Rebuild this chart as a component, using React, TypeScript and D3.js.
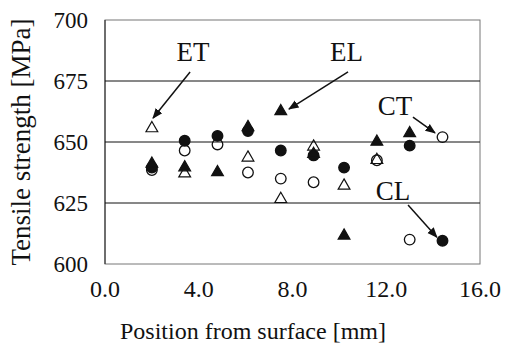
import * as d3 from 'd3';
import { useEffect, useRef } from 'react';

// positions along the thickness [mm]
const positions = [2.0, 3.4, 4.8, 6.1, 7.5, 8.9, 10.2, 11.6, 13.0, 14.4];
// tensile strength [MPa] per orientation (null = no point)
const etValues = [656, 637.5, null, 644, 627, 648.5, 632.5, 643, null, null];
const elValues = [641.5, 640, 638, 656.5, 663, 645.5, 612, 650.5, 654, null];
const ctValues = [638.5, 646.5, 649, 637.5, 635, 633.5, null, 642.5, 610, 652];
const clValues = [639.5, 650.5, 652.5, 654.5, 646.5, 644.5, 639.5, null, 648.5, 609.5];

const xTicks = [0, 4, 8, 12, 16];
const yTicks = [600, 625, 650, 675, 700];

// label text, label position and arrow start/target, in data units
const labels = [
  { text: 'ET', lx: 3.75, ly: 683, fx: 3.63, fy: 678.7, tx: 2.05, ty: 659.8 },
  { text: 'EL', lx: 10.3, ly: 683, fx: 10.37, fy: 678.7, tx: 7.85, ty: 663.5 },
  { text: 'CT', lx: 12.37, ly: 661, fx: 13.14, fy: 660.2, tx: 14.08, ty: 653.7 },
  { text: 'CL', lx: 12.29, ly: 626.2, fx: 12.93, fy: 624.2, tx: 14.16, ty: 611 },
];

const App = () => {
  const ref = useRef<SVGSVGElement>(null);

  useEffect(() => {
    const width = 508;
    const height = 344;
    const margin = { top: 20, right: 28, bottom: 80, left: 105 };
    const font = "'Liberation Serif', 'DejaVu Serif', serif";

    const svg = d3.select(ref.current);
    svg.selectAll('*').remove();
    svg.attr('width', width).attr('height', height)
      .attr('font-family', font);

    const x = d3.scaleLinear().domain([0, 16]).range([margin.left, width - margin.right]);
    const y = d3.scaleLinear().domain([600, 700]).range([height - margin.bottom, margin.top]);

    svg.append('defs').append('marker')
      .attr('id', 'arrow')
      .attr('viewBox', '0 0 10 10')
      .attr('refX', 9).attr('refY', 5)
      .attr('markerWidth', 7).attr('markerHeight', 7)
      .attr('orient', 'auto')
      .append('path').attr('d', 'M0,1L10,5L0,9Z').attr('fill', '#111');

    // frame
    svg.append('rect')
      .attr('x', x(0)).attr('y', y(700))
      .attr('width', x(16) - x(0)).attr('height', y(600) - y(700))
      .attr('fill', 'none').attr('stroke', '#777').attr('stroke-width', 1);
    svg.append('line')
      .attr('x1', x(0)).attr('x2', x(0)).attr('y1', y(700)).attr('y2', y(600))
      .attr('stroke', '#222');

    // gridlines
    svg.selectAll('.grid')
      .data([625, 650, 675])
      .enter().append('line')
      .attr('x1', x(0)).attr('x2', x(16))
      .attr('y1', d => y(d)).attr('y2', d => y(d))
      .attr('stroke', '#111').attr('stroke-width', 1);

    // tick labels
    svg.selectAll('.ytick')
      .data(yTicks)
      .enter().append('text')
      .attr('x', 88).attr('y', d => y(d) + 8)
      .attr('text-anchor', 'end')
      .attr('font-family', font).attr('font-size', 23).attr('fill', '#111')
      .text(d => d);
    svg.selectAll('.xtick')
      .data(xTicks)
      .enter().append('text')
      .attr('x', d => x(d)).attr('y', 297)
      .attr('text-anchor', 'middle')
      .attr('font-family', font).attr('font-size', 24).attr('fill', '#111')
      .text(d => d.toFixed(1));

    svg.append('text')
      .attr('x', 253).attr('y', 339)
      .attr('text-anchor', 'middle')
      .attr('font-family', font).attr('font-size', 24).attr('fill', '#111')
      .text('Position from surface [mm]');
    svg.append('text')
      .attr('transform', 'translate(30,142) rotate(-90)')
      .attr('text-anchor', 'middle')
      .attr('font-family', font).attr('font-size', 27).attr('fill', '#111')
      .text('Tensile strength [MPa]');

    const tri = d3.symbol().type(d3.symbolTriangle).size(60);
    const pts = (vals: (number | null)[]) =>
      positions.map((p, i) => ({ p, v: vals[i] })).filter(d => d.v != null) as { p: number; v: number }[];

    const drawCircles = (vals: (number | null)[], filled: boolean) => {
      svg.append('g').selectAll('circle')
        .data(pts(vals))
        .enter().append('circle')
        .attr('cx', d => x(d.p)).attr('cy', d => y(d.v)).attr('r', 5.3)
        .attr('fill', filled ? '#111' : 'none')
        .attr('stroke', '#111').attr('stroke-width', 1.3);
    };
    const drawTriangles = (vals: (number | null)[], filled: boolean) => {
      svg.append('g').selectAll('path')
        .data(pts(vals))
        .enter().append('path')
        .attr('d', tri)
        .attr('transform', d => `translate(${x(d.p)},${y(d.v) + 1})`)
        .attr('fill', filled ? '#111' : 'none')
        .attr('stroke', '#111').attr('stroke-width', 1.2);
    };

    drawCircles(ctValues, false);
    drawTriangles(etValues, false);
    drawCircles(clValues, true);
    drawTriangles(elValues, true);

    // annotations
    labels.forEach(l => {
      svg.append('text')
        .attr('x', x(l.lx)).attr('y', y(l.ly))
        .attr('text-anchor', 'middle')
        .attr('font-family', font).attr('font-size', 27).attr('fill', '#111')
        .text(l.text);
      svg.append('line')
        .attr('x1', x(l.fx)).attr('y1', y(l.fy))
        .attr('x2', x(l.tx)).attr('y2', y(l.ty))
        .attr('stroke', '#111').attr('stroke-width', 1.5)
        .attr('marker-end', 'url(#arrow)');
    });
  }, []);

  return <svg ref={ref} style={{ position: 'absolute', left: 0, top: 0, background: '#fff' }}></svg>;
};

export default App;
